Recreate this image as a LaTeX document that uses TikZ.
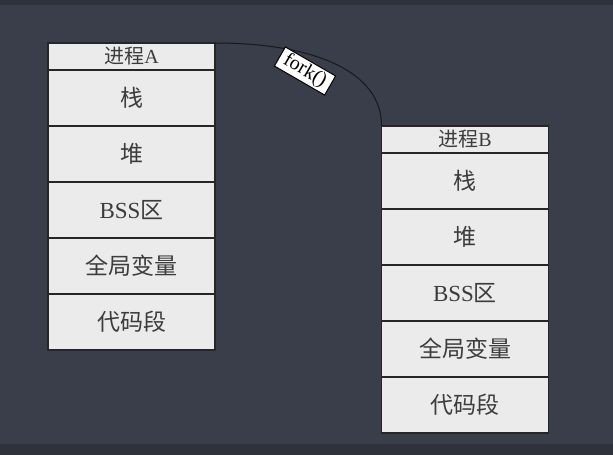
\documentclass[tikz,border=0pt]{standalone}
\usepackage{fontspec}
\setmainfont{Liberation Serif}
\newfontfamily\cjk{Noto Sans CJK SC}
\usepackage{xcolor}
\usetikzlibrary{positioning}
\definecolor{bgdark}{HTML}{3A3D4A}
\definecolor{bgstrip}{HTML}{2F313B}
\definecolor{boxgray}{HTML}{EBEBEB}
\definecolor{textgray}{HTML}{3C3C3C}

\begin{document}
\begin{tikzpicture}[
    x=1pt, y=-1pt,
    head/.style={rectangle, draw=black!85, line width=1.3pt, fill=boxgray, text=textgray, minimum width=167pt, minimum height=27pt, inner sep=0pt, outer sep=0pt, font=\fontsize{20}{20}\selectfont},
    seg/.style={head, minimum height=56pt, font=\fontsize{23}{23}\selectfont},
    forklabel/.style={rectangle, draw=black, line width=1pt, fill=white, minimum width=58pt, minimum height=22pt, inner sep=1pt, font=\fontsize{20}{20}\selectfont},
    link/.style={line width=1pt, black!90}
]

% background
\fill[bgdark] (0,0) rectangle (613,455);
\fill[bgstrip] (0,0) rectangle (613,5);
\fill[bgstrip] (0,444) rectangle (613,455);

% process A
\node[head] (hA) at (131.5,56.5) {{\cjk 进程}A};
\node[seg, below=0pt of hA] (stackA) {\cjk 栈};
\node[seg, below=0pt of stackA] (heapA) {\cjk 堆};
\node[seg, below=0pt of heapA] (bssA) {BSS{\cjk 区}};
\node[seg, below=0pt of bssA] (globA) {\cjk 全局变量};
\node[seg, below=0pt of globA] (codeA) {\cjk 代码段};

% process B
\node[head] (hB) at (465,139.5) {{\cjk 进程}B};
\node[seg, below=0pt of hB] (stackB) {\cjk 栈};
\node[seg, below=0pt of stackB] (heapB) {\cjk 堆};
\node[seg, below=0pt of heapB] (bssB) {BSS{\cjk 区}};
\node[seg, below=0pt of bssB] (globB) {\cjk 全局变量};
\node[seg, below=0pt of globB] (codeB) {\cjk 代码段};

\draw[link] (hA.north east) .. controls (315,43) and (382,72) .. (hB.north west);
\node[forklabel, rotate=-30] (fork) at (305,71) {fork()};

\end{tikzpicture}
\end{document}
